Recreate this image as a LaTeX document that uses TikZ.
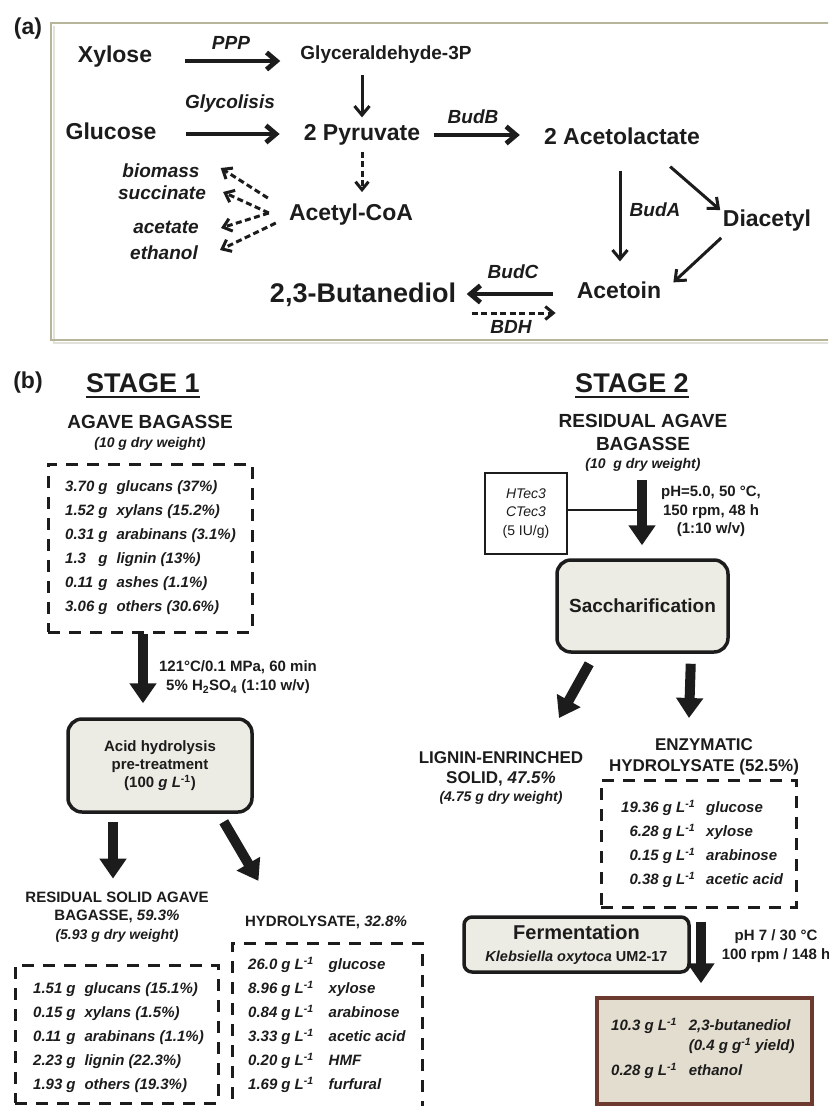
\documentclass[tikz,border=0pt]{standalone}
\usepackage{fontspec}
\setmainfont{Liberation Sans}
\usetikzlibrary{arrows.meta,calc}
\definecolor{txt}{HTML}{1C1C1C}
\definecolor{boxa}{HTML}{B7B69A}
\definecolor{shad}{HTML}{E2E2DA}
\definecolor{pale}{HTML}{ECEBE4}
\definecolor{resfill}{HTML}{E3DDCF}
\definecolor{resline}{HTML}{6D3A2F}
\newcommand{\fsz}[2]{\fontsize{#1}{#2}\selectfont}
\begin{document}
\begin{tikzpicture}[x=1pt,y=-1pt,
  every node/.style={text=txt, inner sep=0pt},
  t27/.style={font=\fsz{27}{32}\bfseries},
  t23/.style={font=\fsz{23}{27}\bfseries},
  t19/.style={font=\fsz{19}{23}\bfseries},
  i19/.style={font=\fsz{19}{23}\bfseries\itshape},
  t15/.style={font=\fsz{15}{18}\bfseries},
  rows/.style={font=\fsz{15}{24}\bfseries\itshape},
  arr/.style={draw=txt, line width=4.8pt, -{Straight Barb[length=10pt,width=17pt]}},
  arrthin/.style={draw=txt, line width=3pt, -{Straight Barb[length=9pt,width=15pt]}},
  darr/.style={draw=txt, line width=3pt, dash pattern=on 6pt off 3.5pt, -{Straight Barb[length=8pt,width=13pt]}},
  bigarr/.style={draw=txt, line width=10pt, -{Triangle[length=20pt,width=26pt]}},
  dbox/.style={draw=txt, line width=3pt, dash pattern=on 12pt off 9pt},
  procbox/.style={draw=txt, line width=3.5pt, rounded corners=14pt, fill=pale},
]
\useasboundingbox (0,0) rectangle (828,1106);
\clip (0,0) rectangle (828,1106);
\fill[white] (0,0) rectangle (828,1106);

% ---------------- panel (a) ----------------
\draw[shad, line width=2pt] (840,343) -- (54,343) -- (54,26);
\draw[boxa, line width=2pt] (840,23) -- (51,23) -- (51,340) -- (840,340);
\node[t23] (la) at (28,29) {(a)};

\node[t23] (xyl) at (115,57) {Xylose};
\node[t19] (g3p) at (386,55) {Glyceraldehyde-3P};
\node[t23] (glc) at (111,131) {Glucose};
\node[t23] (pyr) at (362,135) {2 Pyruvate};
\node[t23] (acl) at (622,136) {2 Acetolactate};
\node[t23] (acoa) at (351,215) {Acetyl-CoA};
\node[t23] (dia) at (767,221) {Diacetyl};
\node[t23] (act) at (619,290) {Acetoin};
\node[t27] (btd) at (363,295) {2,3-Butanediol};

\node[i19] (bio) at (161,171) {biomass};
\node[i19] (suc) at (162,193) {succinate};
\node[i19] (ace) at (166,227) {acetate};
\node[i19] (eth) at (164,253) {ethanol};

\node[i19] (lppp) at (231,43) {PPP};
\node[i19] (lgly) at (230,104) {Glycolisis};
\node[i19] (lbudb) at (473,117) {BudB};
\node[i19] (lbuda) at (655,210) {BudA};
\node[i19] (lbudc) at (513,272) {BudC};
\node[i19] (lbdh) at (511,327) {BDH};

\draw[arr] ($(xyl.east)+(33,4)$) -- ($(g3p.west)+(-20,6)$);
\draw[arr] ($(glc.east)+(29,3)$) -- ($(pyr.west)+(-24,-1)$);
\draw[arr] ($(pyr.east)+(14,0)$) -- ($(acl.west)+(-24,-1)$);
\draw[arrthin] ($(g3p.south -| pyr.center)+(0,11)$) -- ($(pyr.north)+(0,-7)$);
\draw[darr] ($(pyr.south)+(0,6)$) -- ($(acoa.north -| pyr.south)+(0,-12)$);
\draw[arrthin] ($(acl.south)+(-2,26)$) -- ($(act.north)+(1,-20)$);
\draw[arrthin] ($(acl.south east)+(-30,22)$) -- ($(dia.north west)+(-2.5,0)$);
\draw[arrthin] ($(dia.south west)+(-1.5,6)$) -- ($(act.north east)+(12,1)$);
\draw[arr] ($(act.west)+(-24,4)$) -- ($(btd.east)+(10.5,-1)$);
\draw[darr] ($(btd.east)+(15.5,18)$) -- ($(act.west)+(-21,23)$);

\draw[darr] ($(acoa.west)+(-21,-17)$) -- ($(bio.east)+(21,-3)$);
\draw[darr] ($(acoa.west)+(-20,-2)$) -- ($(suc.east)+(17,-1)$);
\draw[darr] ($(acoa.west)+(-20,-2)$) -- ($(ace.east)+(22,1)$);
\draw[darr] ($(acoa.west)+(-13,8)$) -- ($(eth.east)+(22,-3)$);

% ---------------- panel (b) stage 1 ----------------
\node[t23] (lb) at (28,383) {(b)};
\node[t27] (st1) at (143,383) {STAGE 1};
\draw[txt, line width=2pt] ($(st1.south west)+(0,4)$) -- ($(st1.south east)+(0,4)$);

\node[t19, anchor=north, align=center] (ab1) at (150,415.2)
  {AGAVE BAGASSE\\[-4pt]{\fsz{14}{17}\itshape (10 g dry weight)}};

\node[dbox, minimum width=204, minimum height=168] (comp1) at (150,548) {};
\node[rows, anchor=west] (rows1) at (65,547) {\begin{tabular}{@{}l@{\hspace{4pt}}l@{\hspace{9pt}}l@{}}
3.70 & g & glucans (37\%)\\
1.52 & g & xylans (15.2\%)\\
0.31 & g & arabinans (3.1\%)\\
1.3 & g & lignin (13\%)\\
0.11 & g & ashes (1.1\%)\\
3.06 & g & others (30.6\%)
\end{tabular}};

\node[procbox, minimum width=184, minimum height=93, align=center, font=\fsz{15}{18}\bfseries] (acid) at (160,765.5)
  {Acid hydrolysis\\pre-treatment\\(100 \textit{g L}\textsuperscript{-1})};

\draw[bigarr] ($(comp1.south)+(-7,0)$) -- ($(acid.north)+(-17,-14)$);
\node[align=center, font=\fsz{15}{19}\bfseries] (c1) at (238,677.5)
  {121°C/0.1 MPa, 60 min\\5\% H\textsubscript{2}SO\textsubscript{4} (1:10 w/v)};

\node[t15, anchor=north, align=center] (rs) at (117,891.6)
  {RESIDUAL SOLID AGAVE\\BAGASSE, \textit{59.3\%}\\[1pt]{\fsz{14}{17}\itshape (5.93 g dry weight)}};
\node[t15] (hyd) at (326,922) {HYDROLYSATE, \textit{32.8\%}};

\draw[bigarr] ($(acid.south)+(-47,8)$) -- ($(rs.north)+(-4,-13)$);
\draw[bigarr] ($(acid.south east)+(-30,8)$) -- ($(hyd.north west)+(13.5,-34.5)$);

\node[dbox, minimum width=203, minimum height=138] (comp2) at (116.5,1034) {};
\node[rows, anchor=west] (rows2) at (33,1037) {\begin{tabular}{@{}l@{\hspace{4pt}}l@{\hspace{9pt}}l@{}}
1.51 & g & glucans (15.1\%)\\
0.15 & g & xylans (1.5\%)\\
0.11 & g & arabinans (1.1\%)\\
2.23 & g & lignin (22.3\%)\\
1.93 & g & others (19.3\%)
\end{tabular}};

\node[dbox, minimum width=190, minimum height=190] (comp3) at (327,1038) {};
\node[rows, anchor=west] (rows3) at (248,1025) {\begin{tabular}{@{}l@{\hspace{4pt}}l@{\hspace{15pt}}l@{}}
26.0 & g L\textsuperscript{-1} & glucose\\
8.96 & g L\textsuperscript{-1} & xylose\\
0.84 & g L\textsuperscript{-1} & arabinose\\
3.33 & g L\textsuperscript{-1} & acetic acid\\
0.20 & g L\textsuperscript{-1} & HMF\\
1.69 & g L\textsuperscript{-1} & furfural
\end{tabular}};

% ---------------- panel (b) stage 2 ----------------
\node[t27] (st2) at (632,383) {STAGE 2};
\draw[txt, line width=2pt] ($(st2.south west)+(0,4)$) -- ($(st2.south east)+(0,4)$);

\node[t19, anchor=north, align=center] (rab) at (643,414.2)
  {RESIDUAL AGAVE\\BAGASSE\\[-5pt]{\fsz{14}{17}\itshape (10~~g dry weight)}};

\node[draw=txt, line width=2pt, minimum width=82, minimum height=81, align=center, font=\fsz{14}{18.5}] (htec) at (526,513.5)
  {\textit{HTec3}\\\textit{CTec3}\\(5 IU/g)};
\coordinate (tj) at (642,510);
\draw[txt, line width=2.5pt] ($(htec.east)+(0,-3.5)$) -- (tj);

\node[procbox, minimum width=171, minimum height=92, t19] (sacc) at (642.5,606) {Saccharification};
\draw[bigarr] ($(rab.south)+(-1,8)$) -- ($(sacc.north)+(-0.5,-13)$);
\node[align=center, font=\fsz{15}{18.5}\bfseries] (c2) at (711,511.5)
  {pH=5.0, 50 °C,\\150 rpm, 48 h\\(1:10 w/v)};

\node[anchor=north, align=center, font=\fsz{17}{20}\bfseries] (lig) at (501,751)
  {LIGNIN-ENRINCHED\\SOLID, \textit{47.5\%}\\[-2pt]{\fsz{14}{17}\itshape (4.75 g dry weight)}};
\node[anchor=north, align=center, font=\fsz{17}{21}\bfseries] (enz) at (704,738)
  {ENZYMATIC\\HYDROLYSATE (52.5\%)};

\draw[bigarr] ($(sacc.south west)+(34,10)$) -- ($(lig.north)+(58,-33)$);
\draw[bigarr] ($(sacc.south east)+(-39,10)$) -- ($(enz.north)+(-15,-20)$);

\node[dbox, minimum width=195, minimum height=127] (enzbox) at (698.5,843.5) {};
\node[rows, anchor=west] (rows4) at (621,844) {\begin{tabular}{@{}r@{\hspace{11pt}}l@{}}
19.36 g L\textsuperscript{-1} & glucose\\
6.28 g L\textsuperscript{-1} & xylose\\
0.15 g L\textsuperscript{-1} & arabinose\\
0.38 g L\textsuperscript{-1} & acetic acid
\end{tabular}};

\node[draw=txt, line width=3.5pt, rounded corners=8pt, fill=pale, minimum width=225, minimum height=55, align=center, font=\fsz{14.5}{22}\bfseries] (ferm) at (576.5,944.5)
  {{\fontsize{20}{22}\selectfont Fermentation}\\\textit{Klebsiella oxytoca} UM2-17};

\node[draw=resline, line width=3.5pt, fill=resfill, minimum width=215, minimum height=106] (res) at (704.5,1051) {};
\draw[bigarr] ($(enzbox.south)+(2.5,13)$) -- ($(res.north)+(-3.5,-13)$);
\node[align=center, font=\fsz{15}{19}\bfseries] (c3) at (776,946.5)
  {pH 7 / 30 °C\\100 rpm / 148 h};

\node[font=\fsz{15}{20}\bfseries\itshape, anchor=west] (rows5) at (611,1049) {\begin{tabular}{@{}r@{\hspace{12pt}}l@{}}
10.3 g L\textsuperscript{-1} & 2,3-butanediol\\
 & (0.4 g g\textsuperscript{-1} yield)\\[5pt]
0.28 g L\textsuperscript{-1} & ethanol
\end{tabular}};
\end{tikzpicture}
\end{document}
